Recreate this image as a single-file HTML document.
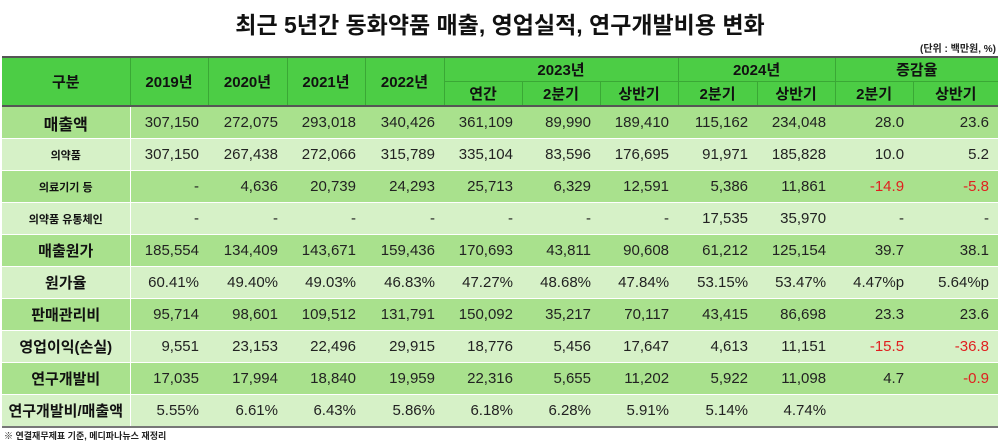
<!DOCTYPE html>
<html><head><meta charset="utf-8"><style>
body{margin:0;width:1000px;height:444px;background:#fff;font-family:"Liberation Sans","Noto Sans CJK KR",sans-serif;overflow:hidden;position:relative}
.t{position:absolute;top:6px;left:0;width:1000px;text-align:center;font-size:23px;font-weight:bold;color:#111}
.u{position:absolute;top:40px;right:4px;font-size:10px;font-weight:bold;color:#222}
table{position:absolute;left:2px;top:56px;width:996px;border-collapse:collapse;table-layout:fixed;border-top:2px solid #555;border-bottom:2px solid #777}
th{background:#4ccd45;font-weight:bold;font-size:15px;color:#111;border-left:1px solid #3aa835;height:23px;padding:0}
thead tr:last-child th{border-top:1px solid #3aa835;}
thead{border-bottom:2px solid #555}
td{height:31px;padding:0 9px 0 0;text-align:right;font-size:15px;color:#222;border-top:1px solid #fff}
td:first-child{text-align:center;padding:0;font-weight:bold;color:#111;border-right:1px solid #fff}
tr.d td{background:#a9e18d}
tr.l td{background:#d6f1c7}
.s{font-size:11px}
.r{color:#e02020}
.f{position:absolute;left:4px;top:429px;font-size:9px;font-weight:bold;color:#222}
</style></head><body>
<div class="t">최근 5년간 동화약품 매출, 영업실적, 연구개발비용 변화</div>
<div class="u">(단위 : 백만원, %)</div>
<table>
<colgroup><col style="width:128px"><col style="width:78px"><col style="width:79px"><col style="width:78px"><col style="width:79px"><col style="width:78px"><col style="width:78px"><col style="width:78px"><col style="width:79px"><col style="width:78px"><col style="width:78px"><col></colgroup>
<thead>
<tr><th rowspan="2" style="border-left:none">구분</th><th rowspan="2">2019년</th><th rowspan="2">2020년</th><th rowspan="2">2021년</th><th rowspan="2">2022년</th><th colspan="3">2023년</th><th colspan="2">2024년</th><th colspan="2">증감율</th></tr>
<tr><th>연간</th><th>2분기</th><th>상반기</th><th>2분기</th><th>상반기</th><th>2분기</th><th>상반기</th></tr>
</thead>
<tbody>
<tr class="d"><td style="font-size:16px">매출액</td><td>307,150</td><td>272,075</td><td>293,018</td><td>340,426</td><td>361,109</td><td>89,990</td><td>189,410</td><td>115,162</td><td>234,048</td><td>28.0</td><td>23.6</td></tr>
<tr class="l"><td class="s">의약품</td><td>307,150</td><td>267,438</td><td>272,066</td><td>315,789</td><td>335,104</td><td>83,596</td><td>176,695</td><td>91,971</td><td>185,828</td><td>10.0</td><td>5.2</td></tr>
<tr class="d"><td class="s">의료기기 등</td><td>-</td><td>4,636</td><td>20,739</td><td>24,293</td><td>25,713</td><td>6,329</td><td>12,591</td><td>5,386</td><td>11,861</td><td class="r">-14.9</td><td class="r">-5.8</td></tr>
<tr class="l"><td class="s">의약품 유통체인</td><td>-</td><td>-</td><td>-</td><td>-</td><td>-</td><td>-</td><td>-</td><td>17,535</td><td>35,970</td><td>-</td><td>-</td></tr>
<tr class="d"><td>매출원가</td><td>185,554</td><td>134,409</td><td>143,671</td><td>159,436</td><td>170,693</td><td>43,811</td><td>90,608</td><td>61,212</td><td>125,154</td><td>39.7</td><td>38.1</td></tr>
<tr class="l"><td>원가율</td><td>60.41%</td><td>49.40%</td><td>49.03%</td><td>46.83%</td><td>47.27%</td><td>48.68%</td><td>47.84%</td><td>53.15%</td><td>53.47%</td><td>4.47%p</td><td>5.64%p</td></tr>
<tr class="d"><td>판매관리비</td><td>95,714</td><td>98,601</td><td>109,512</td><td>131,791</td><td>150,092</td><td>35,217</td><td>70,117</td><td>43,415</td><td>86,698</td><td>23.3</td><td>23.6</td></tr>
<tr class="l"><td>영업이익(손실)</td><td>9,551</td><td>23,153</td><td>22,496</td><td>29,915</td><td>18,776</td><td>5,456</td><td>17,647</td><td>4,613</td><td>11,151</td><td class="r">-15.5</td><td class="r">-36.8</td></tr>
<tr class="d"><td>연구개발비</td><td>17,035</td><td>17,994</td><td>18,840</td><td>19,959</td><td>22,316</td><td>5,655</td><td>11,202</td><td>5,922</td><td>11,098</td><td>4.7</td><td class="r">-0.9</td></tr>
<tr class="l"><td>연구개발비/매출액</td><td>5.55%</td><td>6.61%</td><td>6.43%</td><td>5.86%</td><td>6.18%</td><td>6.28%</td><td>5.91%</td><td>5.14%</td><td>4.74%</td><td></td><td></td></tr>
</tbody>
</table>
<div class="f">※ 연결재무제표 기준, 메디파나뉴스 재정리</div>
</body></html>
